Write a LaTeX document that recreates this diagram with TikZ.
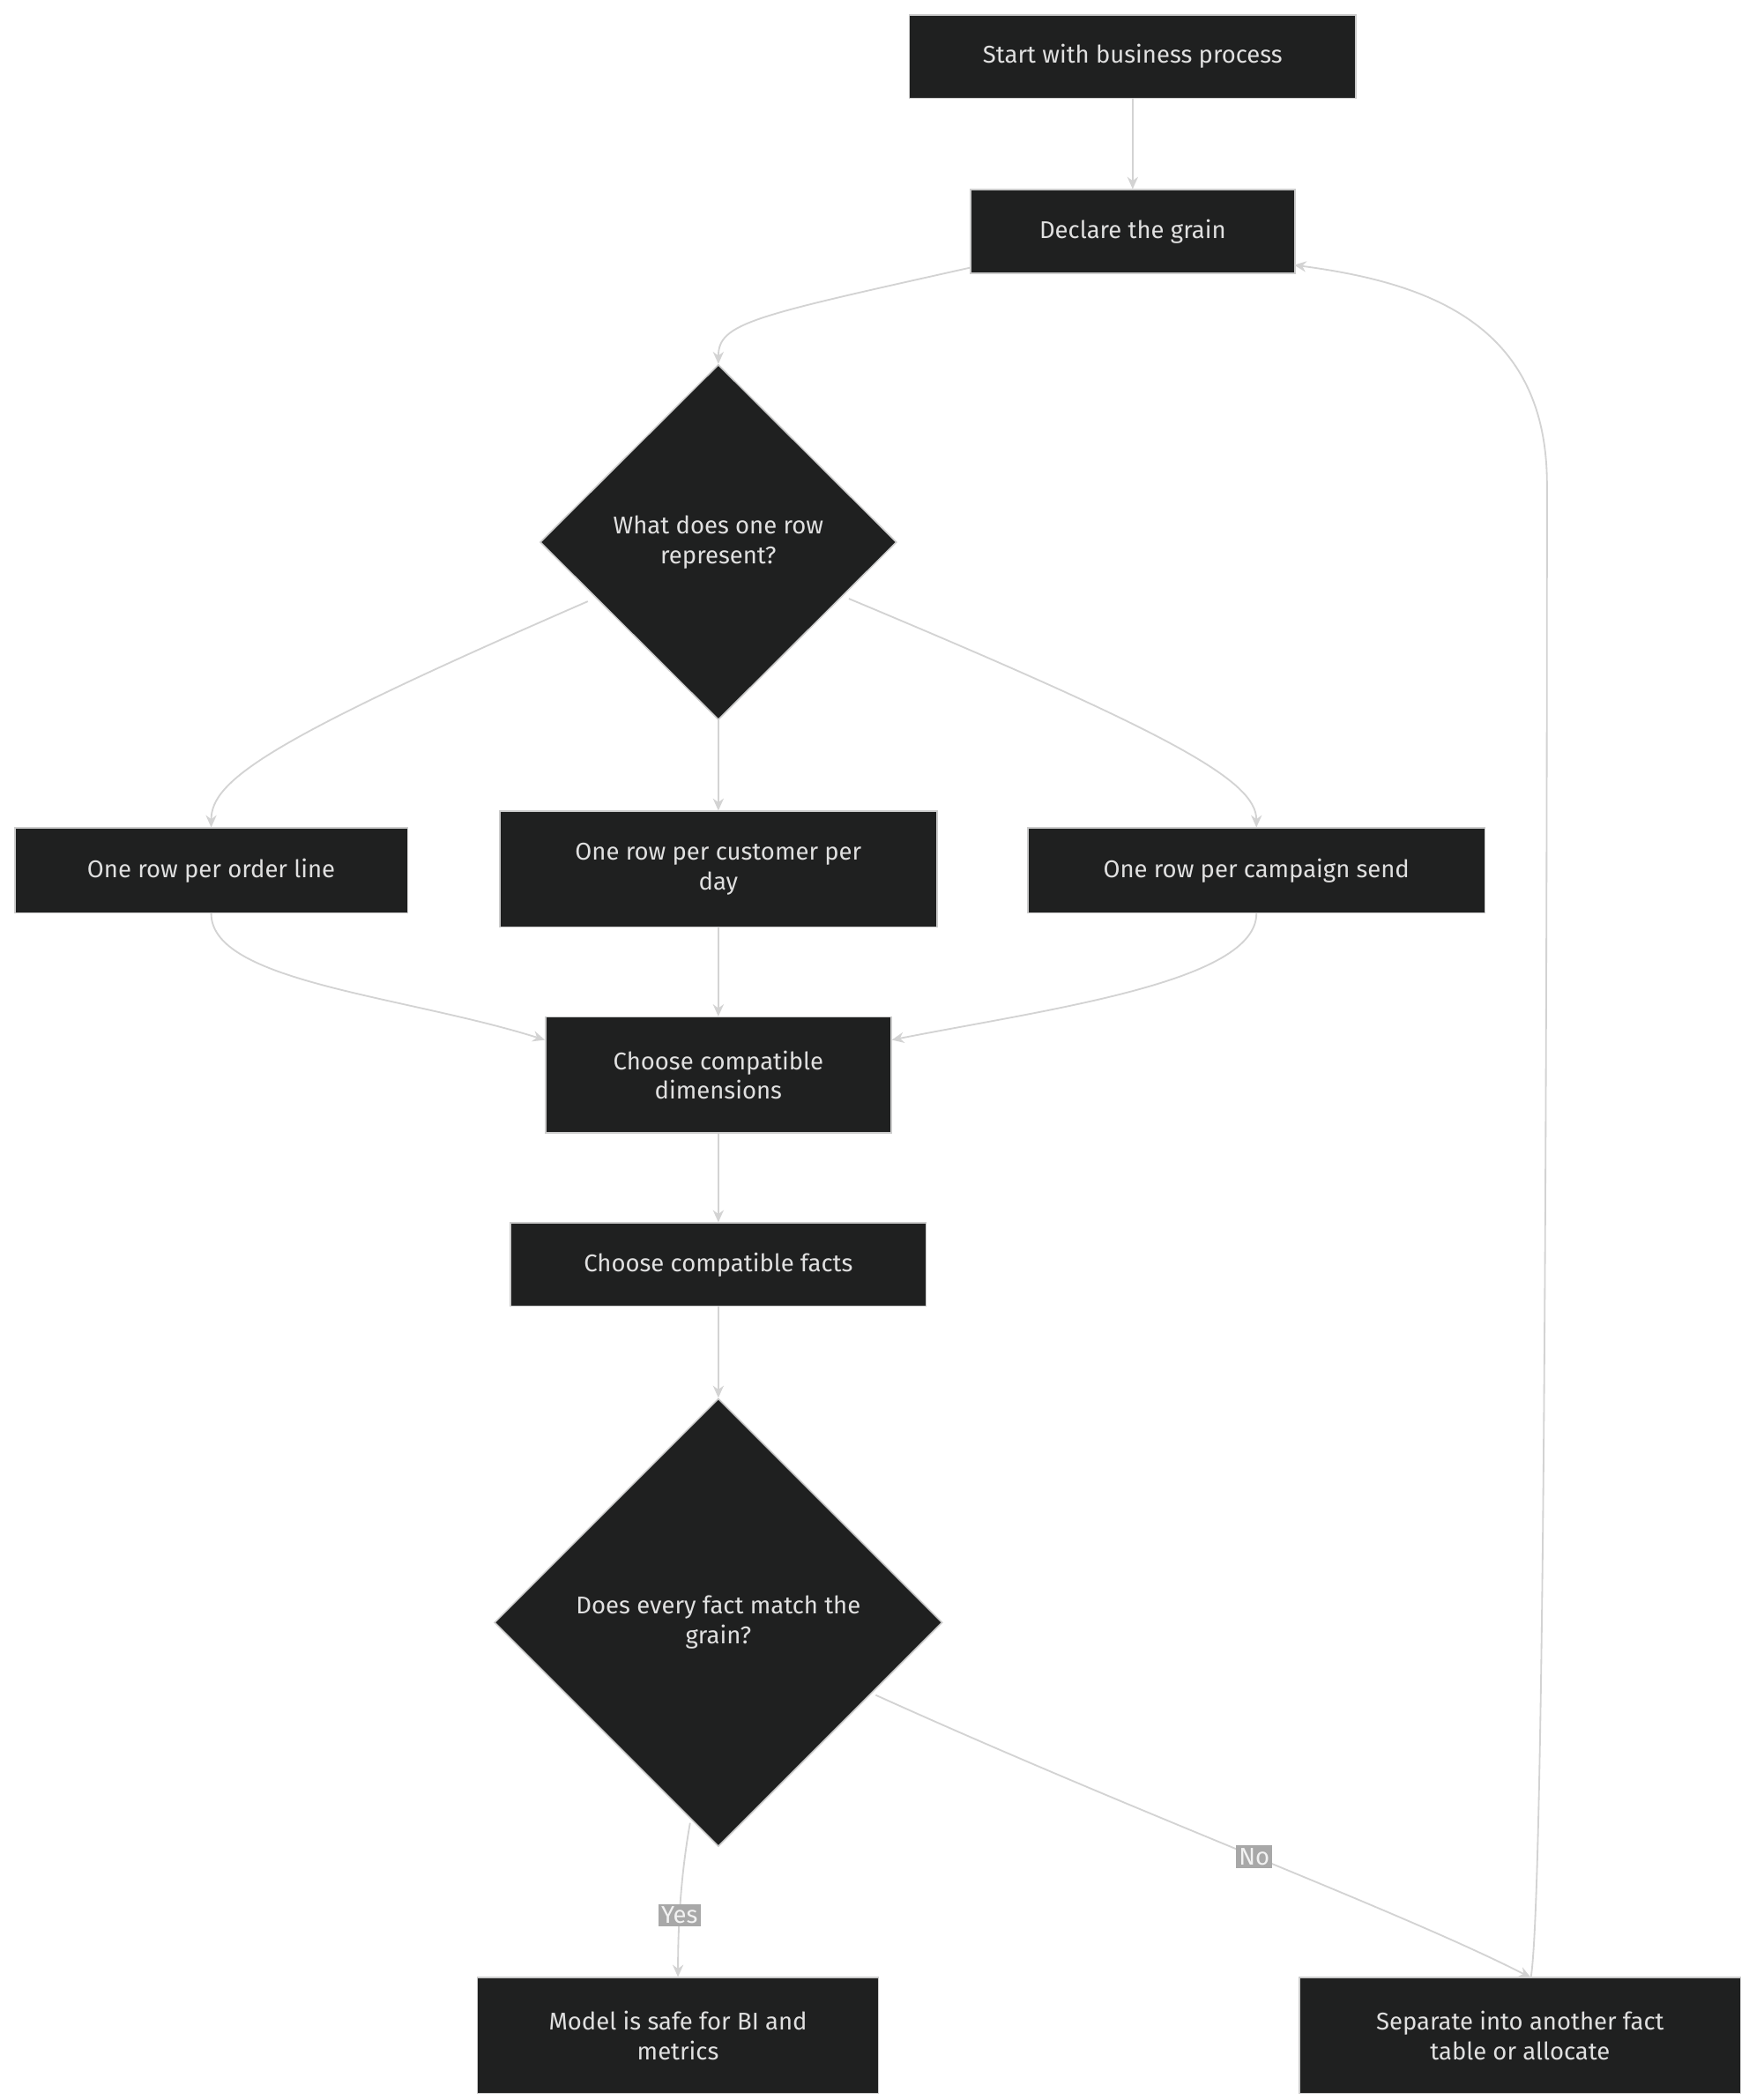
\documentclass[tikz,border=0pt]{standalone}
\usepackage{fontspec}
\setmainfont{Fira Sans}
\usetikzlibrary{shapes.geometric,arrows.meta}
\definecolor{nodefill}{HTML}{1F2020}
\definecolor{nodeline}{HTML}{CCCCCC}
\definecolor{txt}{HTML}{E0E0E0}
\definecolor{edge}{HTML}{D3D3D3}
\definecolor{lab}{HTML}{A8A8A8}
\begin{document}
\begin{tikzpicture}[x=1pt,y=-1pt,
  box/.style={draw=nodeline,fill=nodefill,text=txt,line width=1pt,align=center,font=\fontsize{18}{22}\selectfont,inner sep=0pt},
  dia/.style={diamond,draw=nodeline,fill=nodefill,text=txt,line width=1pt,align=center,font=\fontsize{18}{22}\selectfont,inner sep=0pt,aspect=1},
  ed/.style={draw=edge,line width=1.2pt,-{Stealth[length=9pt,width=8pt]}},
  el/.style={fill=lab,text=white!85!lab,font=\fontsize{18}{22}\selectfont,inner sep=2pt}]
\useasboundingbox (0,0) rectangle (1300,1561);
\fill[white] (0,0) rectangle (1300,1561);
\node[box,minimum width=332pt,minimum height=62pt] (start) at (842,42) {Start with business process};
\node[box,minimum width=241pt,minimum height=62pt] (grain) at (842,172) {Declare the grain};
\node[dia,minimum width=265pt,minimum height=264pt] (q1) at (534,403) {What does one row\\represent?};
\node[box,minimum width=292pt,minimum height=63pt] (o1) at (157,647) {One row per order line};
\node[box,minimum width=325pt,minimum height=86pt] (o2) at (534,646) {One row per customer per\\day};
\node[box,minimum width=340pt,minimum height=63pt] (o3) at (934,647) {One row per campaign send};
\node[box,minimum width=257pt,minimum height=86pt] (dims) at (534,799) {Choose compatible\\dimensions};
\node[box,minimum width=309pt,minimum height=62pt] (facts) at (534,940) {Choose compatible facts};
\node[dia,minimum width=333pt,minimum height=333pt] (q2) at (534,1206) {Does every fact match the\\grain?};
\node[box,minimum width=298pt,minimum height=86pt] (safe) at (504,1513) {Model is safe for BI and\\metrics};
\node[box,minimum width=328pt,minimum height=86pt] (sep) at (1130,1513) {Separate into another fact\\table or allocate};
\coordinate (g1) at (721,199);
\coordinate (q1l) at (437,447);
\coordinate (q1r) at (631,445);
\coordinate (q2a) at (513,1355);
\coordinate (q2b) at (651,1260);
\coordinate (sepT) at (1138,1470);
\coordinate (grR) at (962,197);
\draw[ed] (start) -- (grain);
\draw[ed] (g1) .. controls (560,235) and (534,240) .. (q1.north);
\draw[ed] (q1l) .. controls (200,550) and (157,580) .. (o1.north);
\draw[ed] (q1.south) -- (o2.north);
\draw[ed] (q1r) .. controls (870,545) and (934,580) .. (o3.north);
\draw[ed] (o1.south) .. controls (157,730) and (300,740) .. (dims.west |- 0,773);
\draw[ed] (o2.south) -- (dims.north);
\draw[ed] (o3.south) .. controls (934,730) and (780,750) .. (dims.east |- 0,773);
\draw[ed] (dims.south) -- (facts.north);
\draw[ed] (facts.south) -- (q2.north);
\draw[ed] (q2a) .. controls (505,1400) and (504,1440) .. node[el,pos=0.55]{Yes} (safe.north);
\draw[ed] (q2b) .. controls (850,1350) and (1040,1420) .. node[el,pos=0.5]{No} (sepT |- 0,1470) ;
\draw[ed] (sepT) .. controls (1150,1400) and (1150,500) .. (1150,360) .. controls (1150,240) and (1060,210) .. (grR);
\end{tikzpicture}
\end{document}
